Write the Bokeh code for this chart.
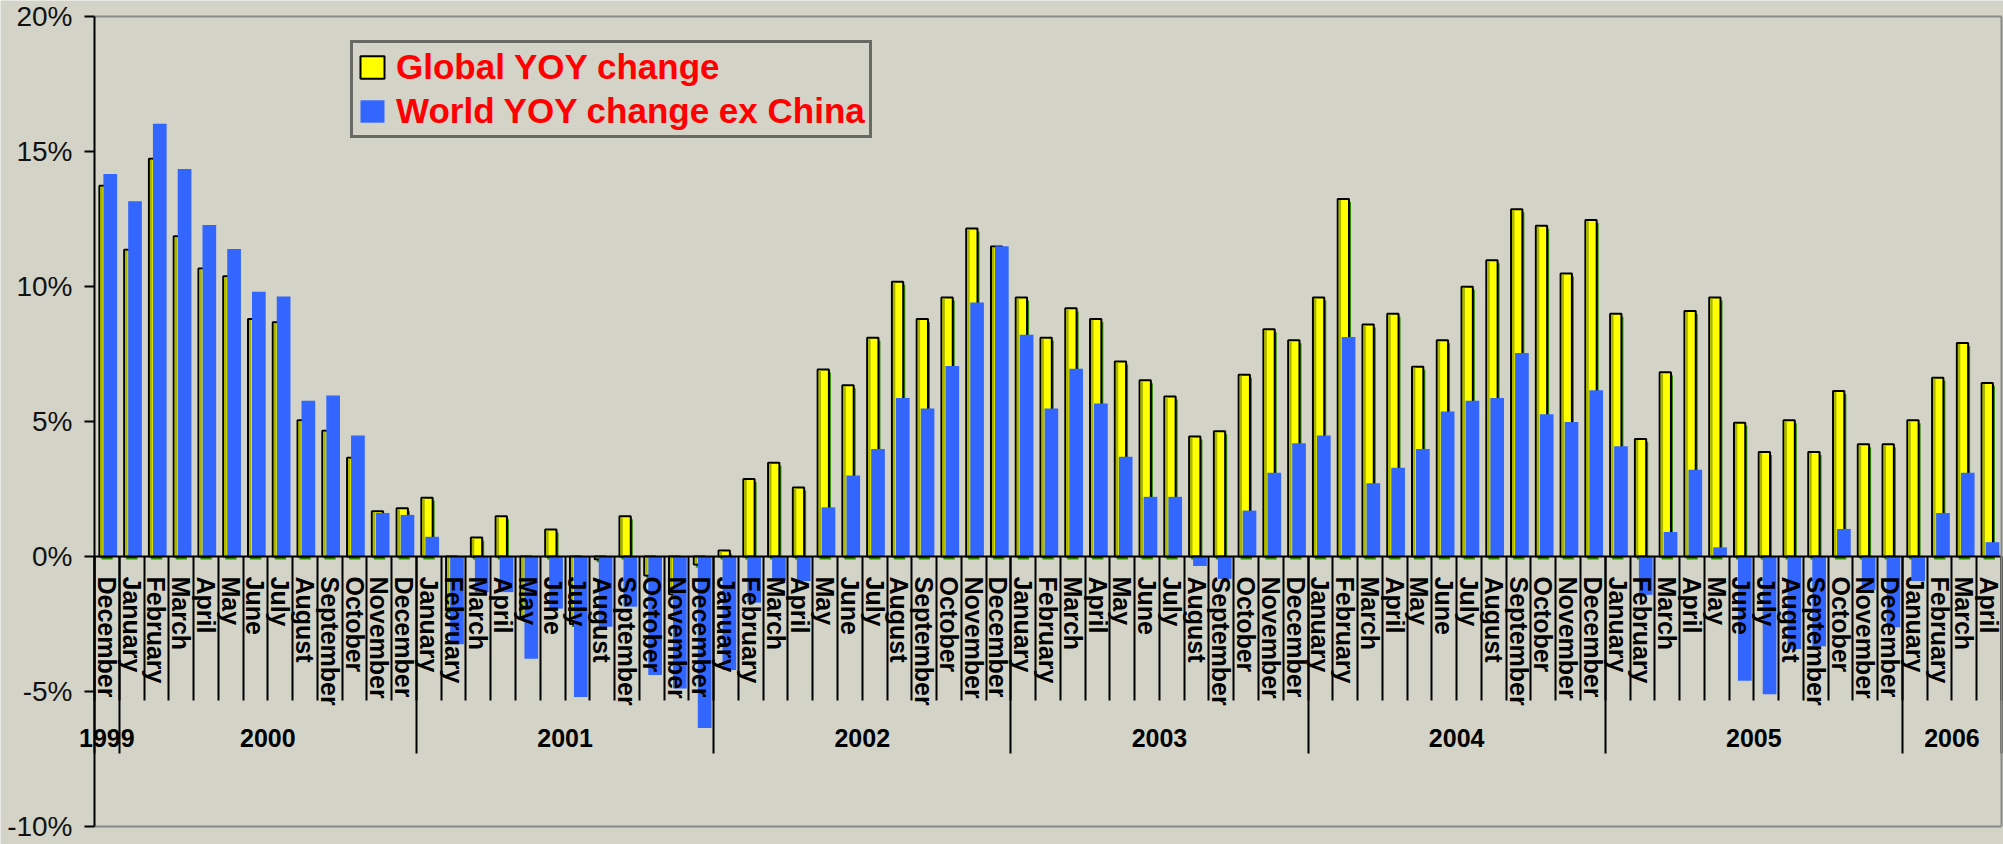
import numpy as np
from bokeh.plotting import figure
from bokeh.models import (Range1d, LinearAxis, FixedTicker, PrintfTickFormatter,
                          Legend, LegendItem)
from bokeh.embed import file_html
from bokeh.resources import INLINE

# ---------------- data ----------------
MONTHS = ["January", "February", "March", "April", "May", "June", "July",
          "August", "September", "October", "November", "December"]
month_labels = ["December"] + MONTHS * 6 + MONTHS[:4]
year_labels = ["1999", "2000", "2001", "2002", "2003", "2004", "2005", "2006"]
year_months = [1, 12, 12, 12, 12, 12, 12, 4]

global_yoy = [
    13.73,
    11.36, 14.73, 11.86, 10.67, 10.38, 8.80, 8.68, 5.05, 4.66, 3.66, 1.68, 1.79,
    2.18, -2.00, 0.70, 1.49, -2.30, 1.00, -2.50, -0.10, 1.49, -0.70, -1.40, -0.30,
    0.22, 2.87, 3.47, 2.56, 6.93, 6.34, 8.10, 10.18, 8.80, 9.59, 12.15, 11.48,
    9.59, 8.10, 9.19, 8.80, 7.22, 6.53, 5.93, 4.44, 4.64, 6.73, 8.42, 8.01,
    9.59, 13.24, 8.59, 8.99, 7.03, 8.01, 9.99, 10.97, 12.86, 12.25, 10.48, 12.46,
    8.99, 4.35, 6.82, 9.09, 9.59, 4.95, 3.87, 5.05, 3.87, 6.13, 4.16, 4.16,
    5.05, 6.62, 7.91, 6.43,
]
world_ex_china = [
    14.17,
    13.16, 16.03, 14.35, 12.28, 11.39, 9.81, 9.63, 5.77, 5.96, 4.48, 1.61, 1.54,
    0.73, -3.25, -1.32, -1.32, -3.79, -1.93, -5.20, -2.60, -1.86, -4.39, -4.89, -6.35,
    -4.20, -1.71, -0.91, -0.91, 1.82, 3.00, 3.98, 5.87, 5.48, 7.06, 9.41, 11.49,
    8.21, 5.48, 6.95, 5.67, 3.69, 2.21, 2.21, -0.35, -0.83, 1.70, 3.10, 4.19,
    4.48, 8.13, 2.71, 3.29, 3.98, 5.37, 5.77, 5.87, 7.54, 5.27, 4.98, 6.16,
    4.08, -1.42, 0.91, 3.21, 0.34, -4.60, -5.10, -3.43, -3.32, 1.02, -1.23, -2.62,
    -0.91, 1.61, 3.10, 0.53,
]
y_ticks = [-10, -5, 0, 5, 10, 15, 20]

# ---------------- layout / style ----------------
BG = "#D3D3C7"
BORDER = "#8A8A8A"
W, H = 2003, 844
M_LEFT, M_RIGHT, M_TOP, M_BOTTOM = 94, 2, 16, 18   # margins around the value area (px)
n = len(month_labels)
y_lo, y_hi = y_ticks[0], y_ticks[-1]
px_x = (W - M_LEFT - M_RIGHT) / n           # pixels per category
px_y = (H - M_TOP - M_BOTTOM) / (y_hi - y_lo)  # pixels per percent point

# the frame covers the whole canvas so nothing (e.g. "1999") gets clipped
p = figure(width=W, height=H,
           x_range=Range1d(-M_LEFT / px_x, n + M_RIGHT / px_x),
           y_range=Range1d(y_lo - M_BOTTOM / px_y, y_hi + M_TOP / px_y),
           output_backend="svg", toolbar_location=None,
           x_axis_location=None, y_axis_location=None,
           min_border=0,
           background_fill_color=BG, border_fill_color=BG,
           outline_line_color=None)
p.grid.visible = False


def axis(side, loc, bounds, ticks=(), tick_out=0, labels=None, line_color=None,
         line_width=2, **kw):
    ax = LinearAxis(fixed_location=loc, bounds=bounds,
                    ticker=FixedTicker(ticks=list(ticks)),
                    major_tick_out=tick_out, major_tick_in=0,
                    minor_tick_out=0, minor_tick_in=0,
                    major_tick_line_color="black", major_tick_line_width=2,
                    axis_line_color=line_color, axis_line_width=line_width)
    if labels is not None:
        ax.major_label_overrides = dict(zip(list(ticks), labels))
    elif len(ticks):
        ax.major_label_overrides = {t: "" for t in ticks}
    for k, v in kw.items():
        setattr(ax, k, v)
    p.add_layout(ax, side)
    return ax


# ---------------- bars ----------------
idx = np.arange(n)
yel_x = idx + 0.426
yel_w = 0.456
blue_x = idx + 0.636
blue_w = 0.553
sh_dx = 2.0 / px_x
sh_dy = 3.0 / px_y
g = np.array(global_yoy)

shadow = p.vbar(x=yel_x + sh_dx, width=yel_w, top=g - sh_dy, bottom=-sh_dy,
                fill_color="#2E8B00", line_color=None)
yellow = p.vbar(x=yel_x, width=yel_w, top=g, bottom=0,
                fill_color="#FFFF00", line_color="black", line_width=2)
stripe = p.vbar(x=yel_x - yel_w / 2 + 2.2 / px_x, width=2.4 / px_x,
                top=g - np.sign(g) * 1.0 / px_y, bottom=0,
                fill_color="#A8B400", line_color=None)
blue = p.vbar(x=blue_x, width=blue_w, top=world_ex_china, bottom=0,
              fill_color="#3366FF", line_color=None)

# ---------------- plot-area border ----------------
axis("above", y_hi, (0, n), line_color=BORDER)
axis("below", y_lo, (0, n), line_color=BORDER)
axis("right", n, (y_lo, y_hi), line_color=BORDER)

# ---------------- value axis ----------------
ya = axis("left", 0, (y_lo, y_hi), y_ticks, tick_out=10,
          labels=[f"{t}%" for t in y_ticks], line_color="black",
          major_label_standoff=12,
          major_label_text_font="Liberation Sans",
          major_label_text_font_size="28px",
          major_label_text_color="#111111")

# ---------------- category axis drawn at 0% ----------------
bounds = [0] + [int(b) for b in np.cumsum(year_months)]
# month separators + zero line
axis("below", 0, (0, n), list(range(n + 1)), tick_out=144, line_color="black")
# year separators
axis("below", 0, (0, n), bounds, tick_out=197)
# month labels
axis("below", 0, (0, n), [i + 0.5 for i in range(n)], labels=month_labels,
     major_label_orientation="vertical", major_label_standoff=20,
     major_label_text_font="Liberation Sans",
     major_label_text_font_style="bold",
     major_label_text_font_size="25px",
     major_label_text_color="black")
# year labels
centers = [(bounds[i] + bounds[i + 1]) / 2 for i in range(len(year_labels))]
axis("below", 0, (0, n), centers, labels=year_labels,
     major_label_standoff=172,
     major_label_text_font="Liberation Sans",
     major_label_text_font_style="bold",
     major_label_text_font_size="25px",
     major_label_text_color="black")

# ---------------- legend ----------------
legend = Legend(items=[LegendItem(label="Global YOY change", renderers=[shadow, yellow]),
                       LegendItem(label="World YOY change ex China", renderers=[blue])],
                location=(350, H - 138),
                border_line_color="black", border_line_width=3,
                background_fill_color=BG, background_fill_alpha=1.0,
                label_text_color="#FF0000", label_text_font="Liberation Sans",
                label_text_font_style="bold", label_text_font_size="35px",
                label_height=40,
                glyph_width=30, glyph_height=28, label_standoff=9,
                padding=4, spacing=4, margin=0)
p.add_layout(legend)

open("out.html", "w").write(file_html(p, INLINE))
